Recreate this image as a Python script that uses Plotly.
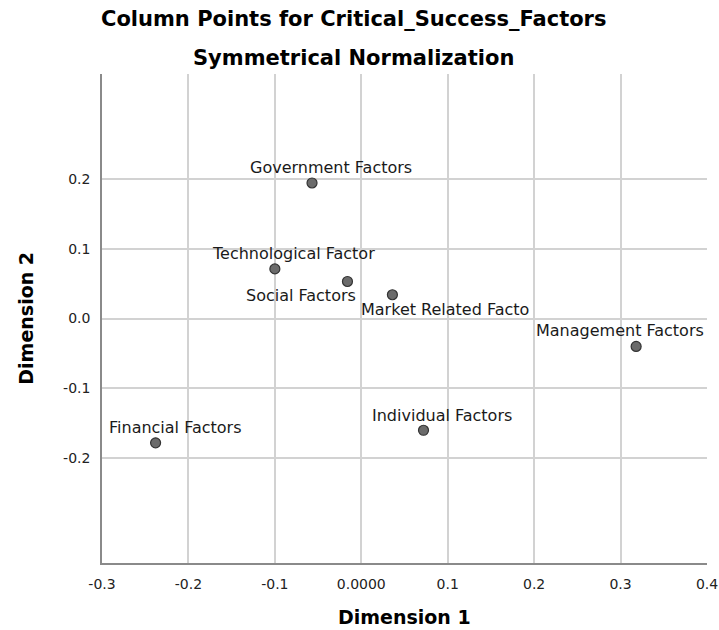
import plotly.graph_objects as go

# ---- data ----
factors = ["Government Factors", "Technological Factor", "Social Factors",
           "Market Related Facto", "Management Factors", "Individual Factors",
           "Financial Factors"]
dim1 = [-0.057, -0.100, -0.016, 0.036, 0.318, 0.072, -0.238]
dim2 = [0.194, 0.071, 0.053, 0.034, -0.040, -0.160, -0.178]

x_tickvals = [-0.3, -0.2, -0.1, 0.0, 0.1, 0.2, 0.3, 0.4]
x_ticktext = ["-0.3", "-0.2", "-0.1", "0.0000", "0.1", "0.2", "0.3", "0.4"]
y_tickvals = [0.2, 0.1, 0.0, -0.1, -0.2]
y_ticktext = ["0.2", "0.1", "0.0", "-0.1", "-0.2"]

# label offsets in pixels (x, y) relative to each point
label_shift = {
    "Government Factors": (19, 15),
    "Technological Factor": (19, 15),
    "Social Factors": (-46, -14),
    "Market Related Facto": (53, -15),
    "Management Factors": (-16, 16),
    "Individual Factors": (18, 15),
    "Financial Factors": (19, 15),
}

FONT = "DejaVu Sans"

fig = go.Figure()
fig.add_trace(go.Scatter(
    x=dim1, y=dim2, mode="markers",
    marker=dict(size=10, color="#6b6b6b", line=dict(color="#333333", width=1.2)),
    hoverinfo="text", text=factors, showlegend=False,
))

annotations = []
for name, xv, yv in zip(factors, dim1, dim2):
    dx, dy = label_shift[name]
    annotations.append(dict(
        x=xv, y=yv, xref="x", yref="y", text=name, showarrow=False,
        xshift=dx, yshift=dy, xanchor="center", yanchor="middle",
        font=dict(family=FONT, size=16, color="#1a1a1a"),
    ))

# titles
annotations.append(dict(
    x=0.4165, y=1.1125, xref="paper", yref="paper", showarrow=False,
    text="Column Points for Critical_Success_Factors", xanchor="center", yanchor="middle",
    font=dict(family=FONT, size=21, color="#000000", weight="bold"),
))
annotations.append(dict(
    x=0.4165, y=1.0327, xref="paper", yref="paper", showarrow=False,
    text="Symmetrical Normalization", xanchor="center", yanchor="middle",
    font=dict(family=FONT, size=21, color="#000000", weight="bold"),
))
# axis titles
annotations.append(dict(
    x=0.5, y=-0.1104, xref="paper", yref="paper", showarrow=False,
    text="Dimension 1", xanchor="center", yanchor="middle",
    font=dict(family=FONT, size=19, color="#000000", weight="bold"),
))
annotations.append(dict(
    x=-0.127, y=0.5, xref="paper", yref="paper", showarrow=False,
    text="Dimension 2", xanchor="center", yanchor="middle", textangle=-90,
    font=dict(family=FONT, size=19, color="#000000", weight="bold"),
))

fig.update_layout(
    width=719, height=630,
    margin=dict(l=102, r=12, t=74, b=67, autoexpand=False),
    paper_bgcolor="white", plot_bgcolor="white",
    annotations=annotations,
    showlegend=False,
)
fig.update_xaxes(
    range=[-0.3, 0.4], tickvals=x_tickvals, ticktext=x_ticktext,
    showgrid=True, gridcolor="#d2d2d2", gridwidth=1.5,
    showline=True, linecolor="#8a8a8a", linewidth=1.5,
    zeroline=False, ticks="", ticklabelstandoff=7, automargin=False,
    tickfont=dict(family=FONT, size=14, color="#222222"),
)
fig.update_yaxes(
    range=[-0.35, 0.35], tickvals=y_tickvals, ticktext=y_ticktext,
    showgrid=True, gridcolor="#d2d2d2", gridwidth=1.5,
    showline=True, linecolor="#8a8a8a", linewidth=1.5,
    zeroline=False, ticks="", ticklabelstandoff=7, automargin=False,
    tickfont=dict(family=FONT, size=14, color="#222222"),
)

fig.write_html(
    "out.html",
    config={"displayModeBar": False},
    post_script="document.body.style.margin='0';document.body.style.overflow='hidden';",
)
